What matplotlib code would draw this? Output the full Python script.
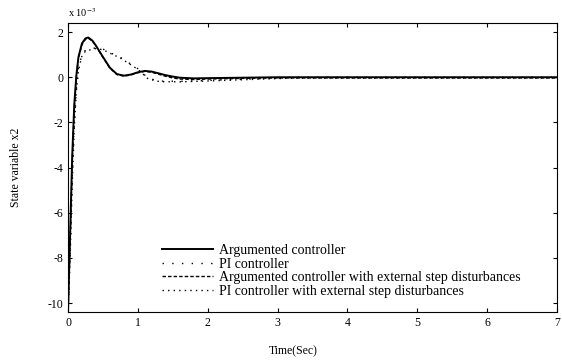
import matplotlib
matplotlib.use("Agg")
import matplotlib.pyplot as plt

plt.rcParams['font.family'] = ['Liberation Serif', 'DejaVu Serif']
plt.rcParams['mathtext.fontset'] = 'stix'
plt.rcParams['axes.unicode_minus'] = False

# valeurs (x 10^-3)
t_aug = [0, 0.03, 0.06, 0.09, 0.12, 0.15, 0.2, 0.25, 0.29, 0.35, 0.4, 0.5, 0.6, 0.7,
         0.8, 0.9, 1.0, 1.1, 1.2, 1.3, 1.4, 1.5, 1.6, 1.8, 2.0, 2.5, 3.0, 7.0]
x2_aug = [-10.4, -7.0, -3.5, -1.2, 0.1, 0.9, 1.5, 1.72, 1.76, 1.62, 1.4, 0.9, 0.42, 0.14,
          0.07, 0.12, 0.22, 0.28, 0.25, 0.17, 0.09, 0.03, -0.02, -0.05, -0.04, -0.02, 0, 0]
x2_aug_dist = [-10.4, -7.3, -3.8, -1.4, 0.0, 0.85, 1.45, 1.68, 1.73, 1.6, 1.38, 0.88, 0.4, 0.12,
               0.05, 0.1, 0.2, 0.26, 0.22, 0.13, 0.04, -0.03, -0.08, -0.1, -0.08, -0.05, -0.03, -0.03]

t_pi = [0, 0.03, 0.06, 0.09, 0.12, 0.15, 0.2, 0.25, 0.3, 0.4, 0.5, 0.63, 0.75, 0.89,
        1.0, 1.15, 1.32, 1.65, 2.14, 2.6, 3.3, 7.0]
x2_pi = [-10.4, -7.8, -4.5, -2.0, -0.5, 0.4, 1.0, 1.2, 1.25, 1.3, 1.25, 1.05, 0.88, 0.6,
         0.38, -0.05, -0.17, -0.18, -0.13, -0.08, 0, 0]
x2_pi_dist = [-10.4, -8.0, -4.8, -2.2, -0.6, 0.3, 0.95, 1.15, 1.2, 1.27, 1.22, 1.02, 0.85, 0.57,
              0.35, -0.08, -0.2, -0.2, -0.15, -0.1, -0.03, -0.03]

fig = plt.figure(figsize=(5.62, 3.6), dpi=100)
ax = fig.add_axes([0.121, 0.133, 0.870, 0.803])

ax.plot(t_aug, x2_aug, color='black', lw=1.4, label='Argumented controller')
ax.plot(t_pi, x2_pi, color='black', lw=1.0, linestyle=(0, (1, 6)), label='PI controller')
ax.plot(t_aug, x2_aug_dist, color='black', lw=1.0, linestyle=(0, (2.5, 1.5)),
        label='Argumented controller with external step disturbances')
ax.plot(t_pi, x2_pi_dist, color='black', lw=1.0, linestyle=(0, (1, 3)),
        label='PI controller with external step disturbances')

ax.set_xlim(0, 7)
ax.set_ylim(-10.4, 2.4)
ax.set_xticks(range(0, 8))
ax.set_yticks([-10, -8, -6, -4, -2, 0, 2])
ax.tick_params(direction='in', top=True, right=True, labelsize=8.5, length=3)
for s in ax.spines.values():
    s.set_linewidth(0.8)

ax.text(0.0, 1.015, r'x 10$^{-3}$', transform=ax.transAxes, fontsize=7.5, va='bottom')
ax.set_xlabel('Time(Sec)', fontsize=8.5)
ax.xaxis.set_label_coords(0.46, -0.115)
ax.set_ylabel('State variable x2', fontsize=8.5)
ax.yaxis.set_label_coords(-0.095, 0.5)

ax.legend(loc='upper left', bbox_to_anchor=(0.18, 0.255), frameon=False, fontsize=10,
          handlelength=3.7, handletextpad=0.45, labelspacing=0.05, borderaxespad=0)

fig.savefig('out.png', dpi=100)
